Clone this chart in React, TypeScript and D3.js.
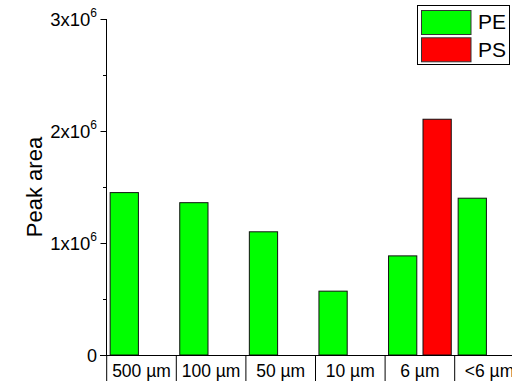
import React from "react";
import * as d3 from "d3";

// Particle size classes and measured peak areas
const categories = ["500 µm", "100 µm", "50 µm", "10 µm", "6 µm", "<6 µm"];
const seriesNames = ["PE", "PS"];
const peValues = [1.45e6, 1.36e6, 1.1e6, 0.57e6, 0.885e6, 1.4e6];
const psValues: (number | null)[] = [null, null, null, null, 2.105e6, null];
const seriesColors = ["#00ff00", "#ff0000"];
const majorTicks = [0, 1e6, 2e6, 3e6];
const minorTicks = [0.5e6, 1.5e6, 2.5e6];

const W = 512;
const H = 381;
const FONT = "Arial, 'Liberation Sans', sans-serif";

export default function App() {
  const y = d3.scaleLinear().domain([0, 3e6]).range([355, 19]);
  const x = d3.scaleBand<string>().domain(categories).range([106.7, 524.3]).padding(0);
  const sub = d3
    .scaleBand<string>()
    .domain(seriesNames)
    .range([0, x.bandwidth()])
    .paddingInner(0.18)
    .paddingOuter(0.1);

  const bars: { key: string; cat: string; s: string; v: number; color: string }[] = [];
  categories.forEach((c, i) => {
    bars.push({ key: `pe-${i}`, cat: c, s: "PE", v: peValues[i], color: seriesColors[0] });
    const ps = psValues[i];
    if (ps != null) bars.push({ key: `ps-${i}`, cat: c, s: "PS", v: ps, color: seriesColors[1] });
  });

  const axisX = 106.5;
  const mantissa = (v: number) => Math.round(v / 1e6);

  return (
    <svg width={W} height={H} style={{ position: "absolute", left: 0, top: 0, background: "#fff" }}>
      <rect width={W} height={H} fill="#fff" />
      {/* bars */}
      {bars.map((b) => (
        <rect
          key={b.key}
          x={(x(b.cat) ?? 0) + (sub(b.s) ?? 0)}
          y={y(b.v)}
          width={sub.bandwidth()}
          height={y(0) - y(b.v)}
          fill={b.color}
          stroke="#111"
          strokeWidth={1}
        />
      ))}
      {/* y axis */}
      <line x1={axisX} x2={axisX} y1={y(3e6)} y2={y(0)} stroke="#000" strokeWidth={1} />
      {majorTicks.map((t) => (
        <g key={t}>
          <line x1={axisX - 6} x2={axisX} y1={Math.round(y(t)) + 0.5} y2={Math.round(y(t)) + 0.5} stroke="#000" />
          {t === 0 ? (
            <text x={97} y={y(t) + 6.5} textAnchor="end" fontFamily={FONT} fontSize={18}>
              0
            </text>
          ) : (
            <text x={97} y={y(t) + 6.5} textAnchor="end" fontFamily={FONT} fontSize={18.5}>
              {`${mantissa(t)}x10`}
              <tspan fontSize={12} dy={-8.5}>
                6
              </tspan>
            </text>
          )}
        </g>
      ))}
      {minorTicks.map((t) => (
        <line key={t} x1={axisX - 3.5} x2={axisX} y1={Math.round(y(t)) + 0.5} y2={Math.round(y(t)) + 0.5} stroke="#000" />
      ))}
      <text
        transform={`translate(41.5,187) rotate(-90)`}
        textAnchor="middle"
        fontFamily={FONT}
        fontSize={22}
      >
        Peak area
      </text>
      {/* category axis with boxed labels */}
      <line x1={100} x2={W} y1={355.5} y2={355.5} stroke="#000" />
      {categories.map((c) => (
        <g key={c}>
          <line x1={(x(c) ?? 0)} x2={(x(c) ?? 0)} y1={355} y2={400} stroke="#000" />
          <text
            x={(x(c) ?? 0) + x.bandwidth() / 2}
            y={376.5}
            textAnchor="middle"
            fontFamily={FONT}
            fontSize={17.5}
          >
            {c}
          </text>
        </g>
      ))}
      {/* legend */}
      <rect x={417.5} y={5.5} width={92} height={59} fill="#fff" stroke="#000" />
      {seriesNames.map((s, i) => (
        <g key={s}>
          <rect x={421.5} y={10.5 + i * 27.3} width={49.5} height={24} fill={seriesColors[i]} stroke="#333" />
          <text x={478} y={29 + i * 28} fontFamily={FONT} fontSize={21}>
            {s}
          </text>
        </g>
      ))}
    </svg>
  );
}
